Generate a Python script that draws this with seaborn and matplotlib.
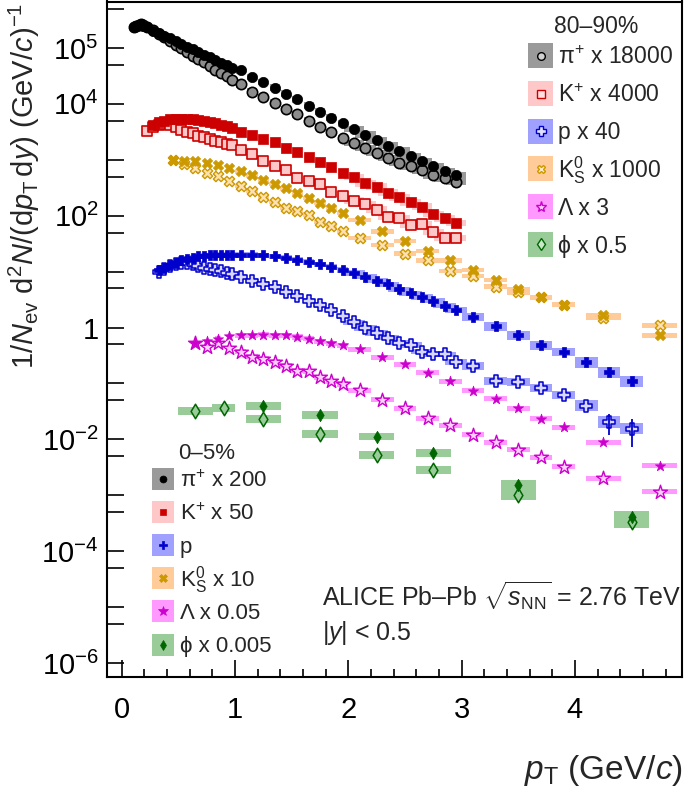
import numpy as np
import pandas as pd
import matplotlib
matplotlib.use('Agg')
import matplotlib.pyplot as plt
import seaborn as sns
from matplotlib.patches import Rectangle
from matplotlib.lines import Line2D
from matplotlib.ticker import FixedLocator, FixedFormatter, NullFormatter

# ---------------- data (log10 of yield) ----------------
PT_PI = [0.11, 0.13, 0.15, 0.17, 0.19, 0.225, 0.275, 0.325, 0.375, 0.425, 0.475, 0.525, 0.575,
         0.625, 0.675, 0.725, 0.775, 0.825, 0.875, 0.925, 0.975, 1.05, 1.15, 1.25, 1.35, 1.45,
         1.55, 1.65, 1.75, 1.85, 1.95, 2.05, 2.15, 2.25, 2.35, 2.45, 2.55, 2.65, 2.75, 2.85, 2.95]
LOG_PI_C = [5.37, 5.40, 5.41, 5.41, 5.40, 5.37, 5.31, 5.26, 5.21, 5.17, 5.12, 5.07, 5.02, 4.98,
            4.93, 4.88, 4.83, 4.78, 4.73, 4.69, 4.64, 4.60, 4.48, 4.39, 4.29, 4.18, 4.08, 3.97,
            3.86, 3.75, 3.65, 3.55, 3.45, 3.35, 3.25, 3.16, 3.06, 2.98, 2.89, 2.80, 2.72]
LOG_PI_P = [5.37, 5.40, 5.41, 5.42, 5.41, 5.38, 5.32, 5.25, 5.19, 5.12, 5.05, 4.99, 4.92, 4.86,
            4.80, 4.74, 4.68, 4.61, 4.55, 4.49, 4.43, 4.35, 4.22, 4.12, 4.02, 3.91, 3.81, 3.70,
            3.59, 3.49, 3.39, 3.30, 3.21, 3.12, 3.03, 2.95, 2.88, 2.81, 2.72, 2.67, 2.60]

PT_K_P = [0.225, 0.275, 0.325, 0.375, 0.425, 0.475, 0.525, 0.575, 0.625, 0.675, 0.725, 0.775,
          0.825, 0.875, 0.925, 0.975, 1.05, 1.15, 1.25, 1.35, 1.45, 1.55, 1.65, 1.75, 1.85,
          1.95, 2.05, 2.15, 2.25, 2.35, 2.45, 2.55, 2.65, 2.75, 2.85, 2.95]
LOG_K_P = [3.52, 3.58, 3.63, 3.64, 3.62, 3.58, 3.54, 3.50, 3.47, 3.43, 3.40, 3.37, 3.34, 3.31,
           3.29, 3.26, 3.17, 3.10, 2.97, 2.88, 2.81, 2.68, 2.62, 2.57, 2.43, 2.36, 2.27, 2.21,
           2.11, 1.98, 1.95, 1.84, 1.85, 1.71, 1.60, 1.60]
PT_K_C = [0.275, 0.325, 0.375, 0.425, 0.475, 0.525, 0.575, 0.625, 0.675, 0.725, 0.775,
          0.825, 0.875, 0.925, 0.975, 1.05, 1.15, 1.25, 1.35, 1.45, 1.55, 1.65, 1.75, 1.85,
          1.95, 2.05, 2.15, 2.25, 2.35, 2.45, 2.55, 2.65, 2.75, 2.85, 2.95]
LOG_K_C = [3.62, 3.67, 3.70, 3.72, 3.73, 3.73, 3.73, 3.72, 3.71, 3.69, 3.67, 3.65, 3.63, 3.60,
           3.57, 3.50, 3.45, 3.38, 3.31, 3.21, 3.14, 3.05, 2.96, 2.87, 2.77, 2.69, 2.58, 2.52,
           2.41, 2.33, 2.24, 2.16, 2.03, 1.95, 1.87]

PT_P = [0.325, 0.375, 0.425, 0.475, 0.525, 0.575, 0.625, 0.675, 0.725, 0.775, 0.825, 0.875,
        0.925, 0.975, 1.05, 1.15, 1.25, 1.35, 1.45, 1.55, 1.65, 1.75, 1.85, 1.95, 2.05, 2.15,
        2.25, 2.35, 2.45, 2.55, 2.65, 2.75, 2.85, 2.95, 3.1, 3.3, 3.5, 3.7, 3.9, 4.1, 4.3, 4.5]
LOG_P_C = [1.02, 1.07, 1.12, 1.16, 1.20, 1.23, 1.25, 1.27, 1.28, 1.29, 1.30, 1.30, 1.30, 1.30,
           1.30, 1.30, 1.29, 1.27, 1.25, 1.21, 1.17, 1.13, 1.08, 1.03, 0.97, 0.91, 0.84, 0.77,
           0.68, 0.61, 0.55, 0.48, 0.39, 0.31, 0.19, 0.02, -0.14, -0.32, -0.44, -0.62, -0.80, -0.96]
LOG_P_P = [1.00, 1.05, 1.10, 1.13, 1.15, 1.15, 1.13, 1.10, 1.07, 1.05, 1.03, 1.01, 0.98, 0.95,
           0.91, 0.84, 0.78, 0.72, 0.63, 0.56, 0.48, 0.40, 0.31, 0.20, 0.09, -0.01, -0.10, -0.18,
           -0.27, -0.31, -0.43, -0.48, -0.48, -0.62, -0.69, -0.96, -0.97, -1.08, -1.21, -1.40,
           -1.69, -1.81]
PT_P_ERR = [4.3, 4.5]
LOG_P_ERR_LO = [-1.92, -2.14]
LOG_P_ERR_HI = [-1.54, -1.63]

PT_K0 = [0.45, 0.55, 0.65, 0.75, 0.85, 0.95, 1.05, 1.15, 1.25, 1.35, 1.45, 1.55, 1.65, 1.75,
         1.85, 1.95, 2.1, 2.3, 2.5, 2.7, 2.9, 3.1, 3.3, 3.5, 3.7, 3.9, 4.25, 4.75]
LOG_K0_C = [2.99, 2.97, 2.97, 2.94, 2.91, 2.85, 2.79, 2.72, 2.64, 2.57, 2.49, 2.41, 2.32, 2.23,
            2.14, 2.05, 1.92, 1.72, 1.55, 1.37, 1.20, 1.03, 0.85, 0.68, 0.54, 0.41, 0.22, -0.14]
LOG_K0_P = [2.99, 2.93, 2.85, 2.77, 2.71, 2.62, 2.53, 2.44, 2.34, 2.24, 2.14, 2.09, 2.02, 1.89,
            1.81, 1.72, 1.60, 1.48, 1.32, 1.20, 1.01, 0.92, 0.73, 0.63, 0.54, 0.41, 0.17, 0.04]

PT_L = [0.65, 0.75, 0.85, 0.95, 1.05, 1.15, 1.25, 1.35, 1.45, 1.55, 1.65, 1.75, 1.85, 1.95,
        2.1, 2.3, 2.5, 2.7, 2.9, 3.1, 3.3, 3.5, 3.7, 3.9, 4.25, 4.75]
LOG_L_C = [-0.28, -0.25, -0.20, -0.16, -0.14, -0.14, -0.13, -0.14, -0.14, -0.17, -0.20, -0.25,
           -0.28, -0.32, -0.39, -0.53, -0.66, -0.81, -0.96, -1.13, -1.27, -1.44, -1.63, -1.78,
           -2.05, -2.47]
LOG_L_P = [-0.28, -0.34, -0.28, -0.36, -0.43, -0.52, -0.56, -0.61, -0.68, -0.77, -0.78, -0.89,
           -0.96, -1.01, -1.12, -1.29, -1.44, -1.62, -1.75, -1.92, -2.05, -2.19, -2.32, -2.49,
           -2.70, -2.94]

PT_PHI_P = [0.65, 0.9, 1.25, 1.75, 2.25, 2.75, 3.5, 4.5]
LOG_PHI_P = [-1.49, -1.44, -1.64, -1.90, -2.28, -2.55, -2.99, -3.48]
PT_PHI_C = [1.25, 1.75, 2.25, 2.75, 3.5, 4.5]
LOG_PHI_C = [-1.40, -1.57, -1.95, -2.24, -2.82, -3.38]

LABELS_PERI = ['π$^{+}$ x 18000', r'K$^{+}$ x 4000', 'p x 40',
               r'K$^{0}_{\mathrm{S}}$ x 1000', 'Λ x 3', 'ϕ x 0.5']
LABELS_CENT = ['π$^{+}$ x 200', r'K$^{+}$ x 50', 'p',
               r'K$^{0}_{\mathrm{S}}$ x 10', 'Λ x 0.05', 'ϕ x 0.005']
YTICK_VALUES = [1e-6, 1e-4, 1e-2, 1, 1e2, 1e4, 1e5]
YTICK_LABELS = [r'$10^{-6}$', r'$10^{-4}$', r'$10^{-2}$', '1', r'$10^{2}$', r'$10^{4}$', r'$10^{5}$']

# ---------------- style ----------------
sns.set_theme(style='white')
plt.rcParams['font.family'] = ['Liberation Sans', 'DejaVu Sans']
plt.rcParams['mathtext.fontset'] = 'custom'
plt.rcParams['mathtext.rm'] = 'Liberation Sans'
plt.rcParams['mathtext.it'] = 'Liberation Sans:italic'
plt.rcParams['mathtext.bf'] = 'Liberation Sans:bold'
plt.rcParams['mathtext.sf'] = 'Liberation Sans'

C_PI, B_PI, F_PI = 'black', '#9a9a9a', '#8c8c8c'
C_K, B_K = '#cc0000', '#ffc8c8'
C_P, B_P = '#0000cc', '#a0a0ff'
C_K0, B_K0 = '#cc9900', '#ffcc99'
C_L, B_L = '#cc00cc', '#ff99ff'
C_PHI, B_PHI = '#006600', '#99cc99'

W, H = 685, 790
fig = plt.figure(figsize=(W / 100, H / 100), dpi=100)
ax = fig.add_axes([107 / W, 1 - 677 / H, (682 - 107) / W, (677 - 1.5) / H])
ax.set_yscale('log')


def bin_widths(pt, high=0.31):
    pt = np.asarray(pt, float)
    return np.where(pt < 0.2, 0.02, np.where(pt < 1.0, 0.05, np.where(pt < 2.0, 0.1,
                    np.where(pt < 4.0, 0.2, high))))


def draw(pt, logv, widths, halfh, boxc, marker, size, face, edge, lw):
    pt = np.asarray(pt, float)
    y = 10 ** np.asarray(logv, float)
    hh = np.broadcast_to(np.asarray(halfh, float), y.shape)
    lo = y * 10 ** (-hh)
    hi = y * 10 ** hh
    ax.bar(pt, hi - lo, bottom=lo, width=widths, color=boxc, edgecolor='none',
           zorder=1, align='center')
    df = pd.DataFrame({'pt': pt, 'y': y})
    sns.scatterplot(data=df, x='pt', y='y', marker=marker, s=size, color=face,
                    edgecolor=edge, linewidth=lw, ax=ax, zorder=3, legend=False)


# pions
draw(PT_PI, LOG_PI_P, bin_widths(PT_PI) * 0.9, 0.06, B_PI, 'o', 55, F_PI, 'black', 1.2)
draw(PT_PI, LOG_PI_C, bin_widths(PT_PI) * 0.9, 0.06, B_PI, 'o', 55, C_PI, C_PI, 0.5)
# kaons
draw(PT_K_P, LOG_K_P, bin_widths(PT_K_P) * 0.9, 0.06, B_K, 's', 50, B_K, C_K, 1.2)
draw(PT_K_C, LOG_K_C, bin_widths(PT_K_C) * 0.9, 0.06, B_K, 's', 50, C_K, C_K, 0.5)
# K0s
draw(PT_K0, LOG_K0_P, bin_widths(PT_K0), 0.04, B_K0, 'X', 55, '#ffe0b0', C_K0, 1.0)
draw(PT_K0, LOG_K0_C, bin_widths(PT_K0), 0.04, B_K0, 'X', 55, C_K0, C_K0, 0.5)
# protons
pw = np.where(np.asarray(PT_P) > 3.0, 0.2, bin_widths(PT_P))
ph = np.where(np.asarray(PT_P) > 4.0, 0.1, np.where(np.asarray(PT_P) > 3.0, 0.075, 0.05))
draw(PT_P, LOG_P_P, pw, ph, B_P, 'P', 70, '#d8d8ff', C_P, 1.1)
draw(PT_P, LOG_P_C, pw, ph, B_P, 'P', 60, C_P, C_P, 0.5)
ax.vlines(PT_P_ERR, 10 ** np.asarray(LOG_P_ERR_LO), 10 ** np.asarray(LOG_P_ERR_HI),
          color=C_P, lw=1.3, zorder=4)
# Lambda
draw(PT_L, LOG_L_P, bin_widths(PT_L), 0.045, B_L, '*', 110, '#ffd0ff', C_L, 1.0)
draw(PT_L, LOG_L_C, bin_widths(PT_L), 0.045, B_L, '*', 60, C_L, C_L, 0.5)
# phi
phw = np.where(np.asarray(PT_PHI_P) == 0.9, 0.2, 0.31)
draw(PT_PHI_P, LOG_PHI_P, phw, np.where(np.asarray(PT_PHI_P) > 3, 0.1, 0.075), B_PHI,
     'd', 55, B_PHI, C_PHI, 1.1)
draw(PT_PHI_C, LOG_PHI_C, 0.31, np.where(np.asarray(PT_PHI_C) > 3, 0.1, 0.07), B_PHI,
     'd', 40, C_PHI, C_PHI, 0.5)

# ---------------- axes ----------------
ax.set_xlim(-0.13, 4.945)
ax.set_ylim(10 ** -6.25, 10 ** 5.83)
ax.set_xlabel('')
ax.set_ylabel('')
ax.xaxis.set_major_locator(FixedLocator([0, 1, 2, 3, 4]))
ax.xaxis.set_major_formatter(FixedFormatter(['0', '1', '2', '3', '4']))
ax.xaxis.set_minor_locator(FixedLocator([v / 5 for v in range(0, 25)]))
ax.yaxis.set_major_locator(FixedLocator(YTICK_VALUES))
ax.yaxis.set_major_formatter(FixedFormatter(YTICK_LABELS))
minor_y = [10.0 ** n for n in (-5, -3, -1, 1, 3)] + [5 * 10.0 ** n for n in range(-7, 6)]
ax.yaxis.set_minor_locator(FixedLocator(minor_y))
ax.yaxis.set_minor_formatter(NullFormatter())
ax.tick_params(axis='both', which='both', direction='in', colors='black',
               top=False, right=False, left=True, bottom=True)
ax.tick_params(axis='x', which='major', length=12, width=1.2, labelsize=21, pad=14)
ax.tick_params(axis='x', which='minor', length=5.5, width=1.2)
ax.tick_params(axis='y', which='both', length=12, width=1.2, labelsize=21, pad=6)
for s in ax.spines.values():
    s.set_color('black')
    s.set_linewidth(1.5)
    s.set_visible(True)

fig.text(683 / W, 1 - 779 / H, r'$p_{\mathrm{T}}$ (GeV/$c$)', ha='right',
         va='baseline', fontsize=24)
fig.text(24 / W, 1 - 3 / H,
         r'$1/N_{\mathrm{ev}}\ \mathrm{d}^{2}N/(\mathrm{d}p_{\mathrm{T}}\,\mathrm{d}y)$ (GeV/$c$)$^{-1}$',
         rotation=90, ha='center', va='top', fontsize=21)

fig.text(322 / W, 1 - 607 / H,
         r'ALICE Pb–Pb $\sqrt{s_{\mathrm{NN}}}$ = 2.76 TeV', ha='left', va='baseline',
         fontsize=18)
fig.text(322 / W, 1 - 640 / H, r'$|y|$ < 0.5', ha='left', va='baseline', fontsize=18)


# ---------------- legends (drawn as boxes + markers + text) ----------------
def legend_block(title, title_xy, x_patch, y_first, pitch, size, text_x, fs, entries, labels):
    fig.text(title_xy[0] / W, 1 - title_xy[1] / H, title, ha='center', va='baseline',
             fontsize=fs)
    fs_px = fs * 100 / 72
    for i, ((boxc, marker, face, edge, ms, mew), lab) in enumerate(zip(entries, labels)):
        yc = y_first + i * pitch
        fig.add_artist(Rectangle((x_patch / W, 1 - (yc + size / 2) / H), size / W, size / H,
                                 transform=fig.transFigure, facecolor=boxc,
                                 edgecolor='none'))
        fig.add_artist(Line2D([(x_patch + size / 2) / W], [1 - yc / H],
                              transform=fig.transFigure, ls='none', marker=marker,
                              markersize=ms, markerfacecolor=face, markeredgecolor=edge,
                              markeredgewidth=mew))
        fig.text(text_x / W, 1 - (yc + 0.358 * fs_px) / H, lab, ha='left', va='baseline',
                 fontsize=fs)


peri_entries = [(B_PI, 'o', '#d0d0d0', 'black', 5.5, 1.0),
                (B_K, 's', '#ffe0e0', C_K, 5.5, 1.0),
                (B_P, 'P', '#e0e0ff', C_P, 7, 1.0),
                (B_K0, 'X', '#ffe8c8', C_K0, 6, 1.0),
                (B_L, '*', '#ffd0ff', C_L, 8, 1.0),
                (B_PHI, 'd', '#c8e8c8', C_PHI, 6, 1.0)]
cent_entries = [(B_PI, 'o', 'black', 'black', 5, 0.5),
                (B_K, 's', C_K, C_K, 5, 0.5),
                (B_P, 'P', C_P, C_P, 6, 0.5),
                (B_K0, 'X', C_K0, C_K0, 6, 0.5),
                (B_L, '*', C_L, C_L, 7, 0.5),
                (B_PHI, 'd', C_PHI, C_PHI, 5, 0.5)]

legend_block('80–90%', (596.5, 33), 528, 55.8, 37.7, 25, 558, 16.5, peri_entries, LABELS_PERI)
legend_block('0–5%', (207, 459), 152, 479, 33.1, 22, 180, 16.0, cent_entries, LABELS_CENT)

fig.savefig('out.png', dpi=100)
